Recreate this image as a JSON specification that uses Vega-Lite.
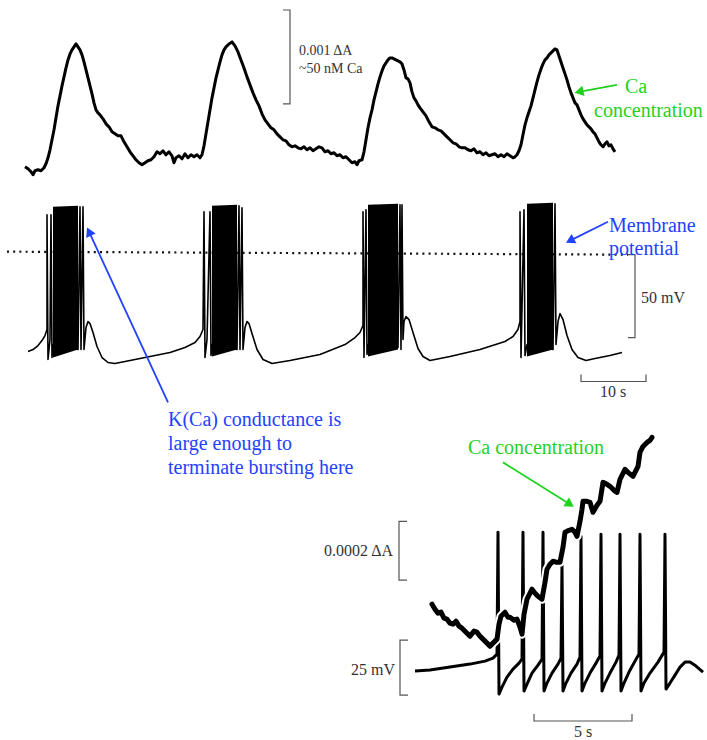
{
  "$schema": "https://vega.github.io/schema/vega-lite/v6.json",
  "width": 707,
  "height": 740,
  "autosize": {"type": "fit", "contains": "padding"},
  "padding": 0,
  "background": "white",
  "config": {"view": {"stroke": null}},
  "datasets": {
    "caTop": [
      {"x":25,"y":167},{"x":28,"y":169},{"x":31,"y":172},{"x":33,"y":175},{"x":35,"y":171},{"x":38,"y":170},{"x":41,"y":171},{"x":44,"y":168},{"x":46,"y":164},{"x":48,"y":158},{"x":50,"y":150},{"x":52,"y":140},{"x":54,"y":130},{"x":56,"y":118},{"x":58,"y":106},{"x":60,"y":96},{"x":62,"y":86},{"x":64,"y":77},{"x":66,"y":68},{"x":68,"y":60},{"x":70,"y":54},{"x":72,"y":50},{"x":74,"y":47},{"x":76,"y":44},{"x":78,"y":47},{"x":80,"y":50},{"x":82,"y":55},{"x":84,"y":62},{"x":86,"y":70},{"x":88,"y":78},{"x":90,"y":86},{"x":92,"y":94},{"x":94,"y":103},{"x":96,"y":110},{"x":98,"y":113},{"x":100,"y":115},{"x":103,"y":119},{"x":106,"y":124},{"x":109,"y":127},{"x":112,"y":132},{"x":115,"y":134},{"x":118,"y":136},{"x":121,"y":136},{"x":124,"y":142},{"x":127,"y":147},{"x":130,"y":152},{"x":133,"y":156},{"x":136,"y":160},{"x":139,"y":163},{"x":142,"y":165},{"x":145,"y":163},{"x":148,"y":161},{"x":151,"y":160},{"x":154,"y":157},{"x":157,"y":152},{"x":160,"y":154},{"x":163,"y":151},{"x":166,"y":155},{"x":169,"y":152},{"x":172,"y":156},{"x":174,"y":163},{"x":176,"y":158},{"x":179,"y":156},{"x":182,"y":159},{"x":185,"y":154},{"x":188,"y":158},{"x":191,"y":155},{"x":194,"y":157},{"x":197,"y":155},{"x":200,"y":158},{"x":202,"y":155},{"x":204,"y":146},{"x":206,"y":134},{"x":208,"y":122},{"x":210,"y":110},{"x":212,"y":98},{"x":214,"y":88},{"x":216,"y":78},{"x":218,"y":70},{"x":220,"y":62},{"x":222,"y":55},{"x":224,"y":50},{"x":226,"y":47},{"x":229,"y":44},{"x":232,"y":42},{"x":235,"y":46},{"x":238,"y":52},{"x":241,"y":60},{"x":244,"y":68},{"x":247,"y":77},{"x":250,"y":85},{"x":253,"y":93},{"x":256,"y":100},{"x":259,"y":106},{"x":262,"y":114},{"x":265,"y":120},{"x":268,"y":124},{"x":271,"y":128},{"x":274,"y":130},{"x":277,"y":134},{"x":280,"y":137},{"x":283,"y":140},{"x":286,"y":141},{"x":289,"y":145},{"x":292,"y":147},{"x":295,"y":146},{"x":298,"y":148},{"x":301,"y":149},{"x":304,"y":147},{"x":307,"y":150},{"x":310,"y":148},{"x":313,"y":151},{"x":316,"y":149},{"x":319,"y":147},{"x":322,"y":148},{"x":325,"y":152},{"x":328,"y":151},{"x":331,"y":154},{"x":334,"y":153},{"x":337,"y":156},{"x":340,"y":155},{"x":343,"y":158},{"x":346,"y":157},{"x":349,"y":160},{"x":352,"y":163},{"x":355,"y":162},{"x":357,"y":165},{"x":359,"y":161},{"x":362,"y":160},{"x":364,"y":152},{"x":366,"y":140},{"x":368,"y":128},{"x":370,"y":118},{"x":372,"y":110},{"x":374,"y":100},{"x":376,"y":92},{"x":378,"y":84},{"x":380,"y":77},{"x":382,"y":71},{"x":384,"y":66},{"x":386,"y":63},{"x":388,"y":60},{"x":390,"y":58},{"x":392,"y":58},{"x":394,"y":59},{"x":396,"y":60},{"x":398,"y":61},{"x":400,"y":62},{"x":402,"y":64},{"x":404,"y":70},{"x":406,"y":78},{"x":408,"y":79},{"x":410,"y":83},{"x":412,"y":92},{"x":414,"y":98},{"x":416,"y":101},{"x":418,"y":105},{"x":420,"y":108},{"x":423,"y":112},{"x":426,"y":116},{"x":429,"y":122},{"x":432,"y":127},{"x":435,"y":128},{"x":438,"y":130},{"x":441,"y":131},{"x":444,"y":134},{"x":447,"y":137},{"x":450,"y":140},{"x":453,"y":143},{"x":456,"y":144},{"x":459,"y":147},{"x":462,"y":148},{"x":465,"y":148},{"x":468,"y":150},{"x":471,"y":151},{"x":474,"y":149},{"x":477,"y":153},{"x":480,"y":152},{"x":483,"y":155},{"x":486,"y":153},{"x":489,"y":156},{"x":492,"y":155},{"x":495,"y":154},{"x":498,"y":157},{"x":501,"y":155},{"x":504,"y":157},{"x":507,"y":154},{"x":510,"y":156},{"x":513,"y":158},{"x":515,"y":157},{"x":517,"y":155},{"x":519,"y":151},{"x":521,"y":145},{"x":523,"y":135},{"x":525,"y":125},{"x":527,"y":118},{"x":529,"y":112},{"x":531,"y":106},{"x":533,"y":98},{"x":535,"y":90},{"x":537,"y":82},{"x":539,"y":75},{"x":541,"y":69},{"x":543,"y":64},{"x":545,"y":60},{"x":547,"y":58},{"x":549,"y":55},{"x":551,"y":53},{"x":553,"y":51},{"x":555,"y":49},{"x":557,"y":50},{"x":559,"y":56},{"x":561,"y":62},{"x":563,"y":68},{"x":565,"y":74},{"x":567,"y":80},{"x":569,"y":87},{"x":571,"y":93},{"x":573,"y":98},{"x":575,"y":103},{"x":577,"y":105},{"x":579,"y":110},{"x":581,"y":115},{"x":583,"y":119},{"x":585,"y":122},{"x":587,"y":125},{"x":589,"y":127},{"x":591,"y":129},{"x":593,"y":132},{"x":595,"y":134},{"x":597,"y":138},{"x":599,"y":142},{"x":601,"y":145},{"x":603,"y":147},{"x":605,"y":144},{"x":607,"y":142},{"x":609,"y":146},{"x":611,"y":145},{"x":613,"y":149},{"x":615,"y":152}
    ],
    "vmTop": [
      {"x":28,"y":352},{"x":33,"y":350},{"x":38,"y":346},{"x":42,"y":341},{"x":45,"y":336},{"x":47,"y":330},{"x":47,"y":215},{"x":48,"y":360},{"x":50,"y":340},{"x":51,"y":215},{"x":52,"y":358},{"x":53,"y":345},
      {"x":78,"y":350},{"x":80,"y":207},{"x":81,"y":350},{"x":83,"y":207},{"x":84,"y":350},{"x":86,"y":328},{"x":88,"y":322},{"x":90,"y":324},{"x":93,"y":333},{"x":97,"y":347},{"x":102,"y":358},{"x":108,"y":363},{"x":115,"y":364},{"x":130,"y":361},{"x":150,"y":357},{"x":170,"y":353},{"x":185,"y":348},{"x":195,"y":343},{"x":200,"y":337},{"x":203,"y":330},{"x":204,"y":212},{"x":205,"y":358},{"x":207,"y":340},{"x":210,"y":212},{"x":211,"y":356},{"x":212,"y":345},
      {"x":237,"y":350},{"x":239,"y":206},{"x":240,"y":350},{"x":242,"y":208},{"x":243,"y":350},{"x":245,"y":328},{"x":247,"y":322},{"x":249,"y":324},{"x":252,"y":334},{"x":257,"y":350},{"x":263,"y":360},{"x":272,"y":364},{"x":290,"y":361},{"x":320,"y":355},{"x":345,"y":345},{"x":355,"y":338},{"x":360,"y":333},{"x":363,"y":326},{"x":363,"y":212},{"x":364,"y":358},{"x":366,"y":210},{"x":367,"y":355},{"x":368,"y":345},
      {"x":398,"y":348},{"x":400,"y":205},{"x":401,"y":350},{"x":402,"y":205},{"x":403,"y":340},{"x":404,"y":322},{"x":406,"y":317},{"x":409,"y":320},{"x":413,"y":333},{"x":418,"y":349},{"x":423,"y":357},{"x":430,"y":361},{"x":450,"y":357},{"x":480,"y":350},{"x":505,"y":342},{"x":513,"y":337},{"x":518,"y":330},{"x":520,"y":322},{"x":520,"y":212},{"x":521,"y":358},{"x":524,"y":210},{"x":525,"y":356},{"x":527,"y":345},
      {"x":553,"y":350},{"x":555,"y":204},{"x":556,"y":345},{"x":558,"y":322},{"x":560,"y":314},{"x":563,"y":320},{"x":567,"y":336},{"x":572,"y":350},{"x":578,"y":358},{"x":586,"y":361},{"x":595,"y":359},{"x":610,"y":356},{"x":622,"y":353}
    ],
    "bursts": [
      {"burst":1,"x":53,"top":207,"bottom":358},{"burst":1,"x":78,"top":206,"bottom":350},
      {"burst":2,"x":212,"top":206,"bottom":357},{"burst":2,"x":237,"top":205,"bottom":350},
      {"burst":3,"x":368,"top":205,"bottom":357},{"burst":3,"x":398,"top":204,"bottom":350},
      {"burst":4,"x":527,"top":204,"bottom":357},{"burst":4,"x":553,"top":203,"bottom":350}
    ],
    "caLow": [
      {"x":432,"y":605},{"x":435,"y":610},{"x":438,"y":614},{"x":441,"y":613},{"x":444,"y":619},{"x":447,"y":620},{"x":450,"y":624},{"x":453,"y":625},{"x":456,"y":622},{"x":459,"y":627},{"x":462,"y":629},{"x":466,"y":633},{"x":470,"y":637},{"x":474,"y":632},{"x":477,"y":633},{"x":480,"y":637},{"x":484,"y":641},{"x":488,"y":645},{"x":490,"y":647},{"x":493,"y":644},{"x":497,"y":640},{"x":499,"y":625},{"x":501,"y":617},{"x":505,"y":613},{"x":508,"y":618},{"x":510,"y":618},{"x":514,"y":621},{"x":517,"y":620},{"x":520,"y":628},{"x":522,"y":635},{"x":524,"y":615},{"x":527,"y":600},{"x":530,"y":594},{"x":532,"y":590},{"x":535,"y":594},{"x":538,"y":597},{"x":542,"y":600},{"x":545,"y":583},{"x":547,"y":570},{"x":550,"y":565},{"x":553,"y":562},{"x":556,"y":563},{"x":560,"y":563},{"x":563,"y":548},{"x":565,"y":533},{"x":569,"y":531},{"x":572,"y":530},{"x":575,"y":533},{"x":577,"y":537},{"x":580,"y":522},{"x":582,"y":510},{"x":583,"y":502},{"x":587,"y":502},{"x":590,"y":503},{"x":593,"y":513},{"x":597,"y":506},{"x":600,"y":502},{"x":603,"y":483},{"x":607,"y":485},{"x":610,"y":487},{"x":614,"y":491},{"x":617,"y":493},{"x":620,"y":480},{"x":625,"y":470},{"x":628,"y":473},{"x":633,"y":477},{"x":636,"y":471},{"x":638,"y":467},{"x":640,"y":453},{"x":643,"y":447},{"x":647,"y":443},{"x":650,"y":441},{"x":652,"y":438}
    ],
    "vmLow": [
      {"x":415,"y":672},{"x":430,"y":671},{"x":450,"y":668},{"x":470,"y":665},{"x":485,"y":662},{"x":493,"y":659},{"x":497,"y":655},
      {"x":498,"y":533},{"x":499,"y":695},{"x":502,"y":688},{"x":507,"y":678},{"x":513,"y":670},{"x":519,"y":664},{"x":522,"y":660},
      {"x":523,"y":533},{"x":524,"y":692},{"x":527,"y":685},{"x":532,"y":674},{"x":538,"y":666},{"x":542,"y":660},
      {"x":543,"y":533},{"x":544,"y":692},{"x":547,"y":684},{"x":552,"y":674},{"x":558,"y":665},{"x":561,"y":659},
      {"x":562,"y":565},{"x":563,"y":692},{"x":566,"y":684},{"x":571,"y":674},{"x":577,"y":665},{"x":580,"y":658},
      {"x":581,"y":537},{"x":582,"y":692},{"x":585,"y":684},{"x":590,"y":674},{"x":596,"y":664},{"x":600,"y":657},
      {"x":601,"y":535},{"x":602,"y":692},{"x":605,"y":684},{"x":610,"y":674},{"x":616,"y":663},{"x":619,"y":656},
      {"x":620,"y":535},{"x":621,"y":692},{"x":624,"y":684},{"x":629,"y":673},{"x":635,"y":662},{"x":639,"y":655},
      {"x":640,"y":535},{"x":641,"y":692},{"x":644,"y":684},{"x":650,"y":674},{"x":658,"y":663},{"x":664,"y":653},
      {"x":665,"y":535},{"x":666,"y":690},{"x":670,"y":684},{"x":675,"y":676},{"x":680,"y":668},{"x":685,"y":663},{"x":690,"y":663},{"x":696,"y":667},{"x":703,"y":673}
    ],
    "bars": [
      {"bar":"a","x":283,"y":10},{"bar":"a","x":290,"y":10},{"bar":"a","x":290,"y":104},{"bar":"a","x":283,"y":104},
      {"bar":"b","x":628,"y":255},{"bar":"b","x":635,"y":255},{"bar":"b","x":635,"y":338},{"bar":"b","x":628,"y":338},
      {"bar":"c","x":581,"y":375},{"bar":"c","x":581,"y":382},{"bar":"c","x":646,"y":382},{"bar":"c","x":646,"y":375},
      {"bar":"d","x":407,"y":522},{"bar":"d","x":399,"y":522},{"bar":"d","x":399,"y":581},{"bar":"d","x":407,"y":581},
      {"bar":"e","x":408,"y":641},{"bar":"e","x":400,"y":641},{"bar":"e","x":400,"y":696},{"bar":"e","x":408,"y":696},
      {"bar":"f","x":534,"y":715},{"bar":"f","x":534,"y":722},{"bar":"f","x":632,"y":722},{"bar":"f","x":632,"y":715}
    ],
    "arrows": [
      {"arrow":"caTop","colour":"green","x":617,"y":85,"x2":579,"y2":92,"angle":258},
      {"arrow":"vm","colour":"blue","x":608,"y":222,"x2":570,"y2":241,"angle":243},
      {"arrow":"kca","colour":"blue","x":168,"y":403,"x2":89,"y2":232,"angle":335},
      {"arrow":"caLow","colour":"green","x":503,"y":463,"x2":570,"y2":505,"angle":122}
    ]
  },
  "encoding": {
    "x": {"field": "x", "type": "quantitative", "scale": {"domain": [0, 707], "nice": false, "zero": false}, "axis": null},
    "y": {"field": "y", "type": "quantitative", "scale": {"domain": [0, 740], "nice": false, "zero": false, "reverse": true}, "axis": null}
  },
  "layer": [
    {
      "data": {"values": [{"x": 7, "y": 252, "x2": 628, "y2": 255}]},
      "mark": {"type": "rule", "color": "#111", "strokeWidth": 2.2, "strokeDash": [2, 4.2]},
      "encoding": {"x2": {"field": "x2"}, "y2": {"field": "y2"}}
    },
    {
      "data": {"name": "caTop"},
      "mark": {"type": "line", "color": "black", "strokeWidth": 3, "strokeJoin": "round"},
      "encoding": {"order": {"value": null}}
    },
    {
      "data": {"name": "bursts"},
      "mark": {"type": "area", "color": "black", "opacity": 1},
      "encoding": {"y": {"field": "top", "type": "quantitative"}, "y2": {"field": "bottom"}, "detail": {"field": "burst"}}
    },
    {
      "data": {"name": "vmTop"},
      "mark": {"type": "line", "color": "black", "strokeWidth": 1.6, "strokeJoin": "round"},
      "encoding": {"order": {"value": null}}
    },
    {
      "data": {"name": "vmLow"},
      "mark": {"type": "line", "color": "black", "strokeWidth": 3, "strokeJoin": "round"},
      "encoding": {"order": {"value": null}}
    },
    {
      "data": {"name": "caLow"},
      "mark": {"type": "line", "color": "white", "strokeWidth": 9, "strokeJoin": "round", "strokeCap": "round"},
      "encoding": {"order": {"value": null}}
    },
    {
      "data": {"name": "caLow"},
      "mark": {"type": "line", "color": "black", "strokeWidth": 5, "strokeJoin": "round", "strokeCap": "round"},
      "encoding": {"order": {"value": null}}
    },
    {
      "data": {"name": "bars"},
      "mark": {"type": "line", "color": "#555", "strokeWidth": 1.2},
      "encoding": {"detail": {"field": "bar"}, "order": {"value": null}}
    },
    {
      "data": {"name": "arrows"},
      "mark": {"type": "rule", "strokeWidth": 1.8},
      "encoding": {
        "x2": {"field": "x2"}, "y2": {"field": "y2"},
        "color": {"field": "colour", "type": "nominal", "scale": {"domain": ["green", "blue"], "range": ["#1fd21f", "#2342ff"]}, "legend": null}
      }
    },
    {
      "data": {"name": "arrows"},
      "mark": {"type": "point", "shape": "triangle-up", "filled": true, "size": 110, "opacity": 1},
      "encoding": {
        "x": {"field": "x2", "type": "quantitative"},
        "y": {"field": "y2", "type": "quantitative"},
        "angle": {"field": "angle", "type": "quantitative", "scale": null},
        "color": {"field": "colour", "type": "nominal", "scale": {"domain": ["green", "blue"], "range": ["#1fd21f", "#2342ff"]}, "legend": null}
      }
    },
    {
      "data": {"values": [{"x": 299, "y": 55, "t": "0.001 ΔA"}, {"x": 299, "y": 73, "t": "~50 nM Ca"}]},
      "mark": {"type": "text", "align": "left", "baseline": "alphabetic", "font": "Liberation Serif", "fontSize": 14, "color": "#333"},
      "encoding": {"text": {"field": "t"}}
    },
    {
      "data": {"values": [{"x": 641, "y": 303, "t": "50 mV"}]},
      "mark": {"type": "text", "align": "left", "baseline": "alphabetic", "font": "Liberation Serif", "fontSize": 16, "color": "#333"},
      "encoding": {"text": {"field": "t"}}
    },
    {
      "data": {"values": [{"x": 613, "y": 398, "t": "10 s"}, {"x": 583, "y": 738, "t": "5 s"}]},
      "mark": {"type": "text", "align": "center", "baseline": "alphabetic", "font": "Liberation Serif", "fontSize": 16, "color": "#333"},
      "encoding": {"text": {"field": "t"}}
    },
    {
      "data": {"values": [{"x": 393, "y": 557, "t": "0.0002 ΔA"}, {"x": 395, "y": 676, "t": "25 mV"}]},
      "mark": {"type": "text", "align": "right", "baseline": "alphabetic", "font": "Liberation Serif", "fontSize": 16, "color": "#333"},
      "encoding": {"text": {"field": "t"}}
    },
    {
      "data": {"values": [{"x": 625, "y": 93, "t": "Ca"}, {"x": 594, "y": 117, "t": "concentration"}, {"x": 468, "y": 455, "t": "Ca concentration"}]},
      "mark": {"type": "text", "align": "left", "baseline": "alphabetic", "font": "Liberation Serif", "fontSize": 20, "color": "#1fd21f"},
      "encoding": {"text": {"field": "t"}}
    },
    {
      "data": {"values": [{"x": 609, "y": 232, "t": "Membrane"}, {"x": 609, "y": 255, "t": "potential"}, {"x": 168, "y": 427, "t": "K(Ca) conductance is"}, {"x": 168, "y": 451, "t": "large enough to"}, {"x": 168, "y": 475, "t": "terminate bursting here"}]},
      "mark": {"type": "text", "align": "left", "baseline": "alphabetic", "font": "Liberation Serif", "fontSize": 20, "color": "#2342ff"},
      "encoding": {"text": {"field": "t"}}
    }
  ]
}
